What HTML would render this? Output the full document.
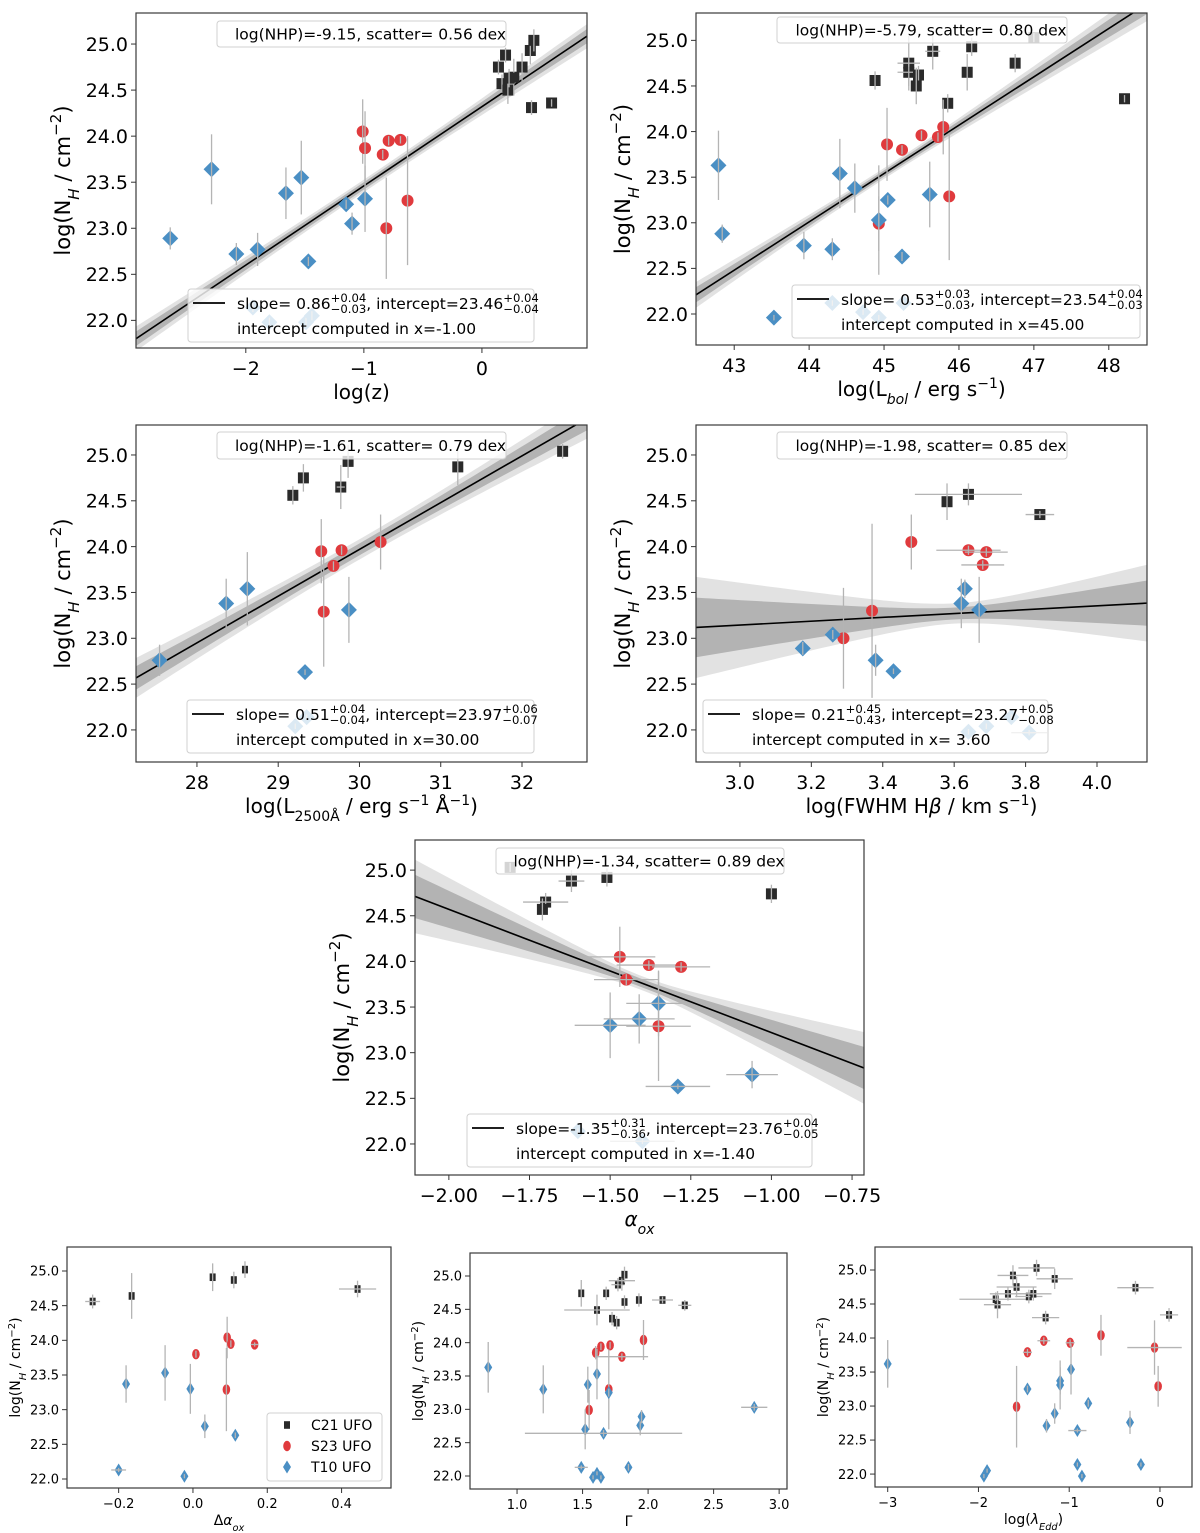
<!DOCTYPE html>
<html><head><meta charset="utf-8"><style>
html,body{margin:0;padding:0;background:#fff;}
svg{display:block;font-family:"DejaVu Sans","Liberation Sans",sans-serif;}
</style></head><body>
<svg id="fig" width="1200" height="1533" viewBox="0 0 1200 1533" xmlns="http://www.w3.org/2000/svg"></svg>
<script>
// ---------- DATA: each point [x, y, xerr, yerr] ----------
const p1Black=[[0.14,24.75,0,0.08],[0.20,24.88,0,0.08],[0.17,24.57,0,0.1],[0.22,24.50,0,0.15],[0.27,24.64,0,0.2],[0.34,24.75,0,0.15],[0.41,24.93,0,0.15],[0.44,25.04,0,0.12],[0.42,24.31,0,0.08],[0.59,24.36,0,0.04],[0.23,24.63,0,0.1]];
const p1Red=[[-1.01,24.05,0,0.35],[-0.99,23.87,0,0.4],[-0.84,23.80,0,0.05],[-0.79,23.95,0,0.05],[-0.69,23.96,0,0.04],[-0.63,23.30,0,0.7],[-0.81,23.00,0,0.55]];
const p1Blue=[[-2.64,22.89,0,0.12],[-2.29,23.64,0,0.38],[-2.08,22.72,0,0.12],[-1.90,22.77,0,0.18],[-1.66,23.38,0,0.28],[-1.53,23.55,0,0.4],[-1.47,22.64,0,0.05],[-1.15,23.26,0,0.05],[-1.10,23.05,0,0.12],[-0.99,23.32,0,0.36],[-1.94,22.14,0,0.05],[-1.80,21.98,0,0.05],[-1.49,21.98,0,0.05],[-1.44,22.05,0,0.05]];

const p2Black=[[44.88,24.56,0,0.1],[45.33,24.75,0.15,0.3],[45.33,24.65,0.15,0.15],[45.46,24.62,0,0.1],[45.43,24.50,0,0.2],[45.65,24.88,0.1,0.2],[45.85,24.31,0,0.1],[46.11,24.65,0,0.2],[46.17,24.93,0,0.1],[46.75,24.75,0,0.1],[48.21,24.36,0,0.04],[47.00,25.03,0,0.05]];
const p2Red=[[45.04,23.86,0,0.4],[45.24,23.80,0,0.05],[45.50,23.96,0,0.05],[45.72,23.94,0,0.05],[45.79,24.05,0,0.3],[45.87,23.29,0,0.7],[44.93,22.99,0,0.3]];
const p2Blue=[[42.79,23.63,0,0.38],[42.84,22.88,0,0.1],[43.53,21.96,0,0.03],[43.93,22.75,0,0.15],[44.31,22.71,0,0.12],[44.41,23.54,0,0.38],[44.61,23.38,0,0.27],[44.93,23.03,0,0.6],[45.05,23.25,0,0.05],[45.24,22.63,0,0.05],[45.61,23.31,0,0.36],[44.31,22.12,0,0.03],[44.72,22.02,0,0.03],[44.93,21.96,0,0.03],[45.26,22.12,0,0.03]];

const p3Black=[[29.18,24.56,0,0.1],[29.31,24.75,0,0.15],[29.77,24.65,0.05,0.24],[29.86,24.93,0,0.18],[31.21,24.87,0,0.2],[32.50,25.04,0,0.08]];
const p3Red=[[29.53,23.95,0,0.35],[29.78,23.96,0,0.05],[29.68,23.79,0,0.05],[29.56,23.29,0,0.6],[30.26,24.05,0,0.3]];
const p3Blue=[[27.54,22.76,0,0.17],[28.36,23.38,0,0.27],[28.62,23.54,0,0.4],[29.33,22.63,0,0.03],[29.87,23.31,0,0.36],[29.21,22.04,0,0.03],[29.35,22.14,0,0.03]];

const p4Black=[[3.58,24.49,0,0.2],[3.64,24.57,0.15,0.12],[3.84,24.35,0.04,0.04]];
const p4Red=[[3.37,23.30,0,0.95],[3.29,23.00,0,0.55],[3.48,24.05,0,0.3],[3.64,23.96,0.09,0.05],[3.69,23.94,0.06,0.05],[3.68,23.80,0.06,0.05]];
const p4Blue=[[3.176,22.89,0,0.07],[3.26,23.04,0,0.05],[3.38,22.76,0,0.17],[3.43,22.64,0,0.03],[3.63,23.54,0,0.1],[3.62,23.38,0,0.27],[3.67,23.31,0,0.36],[3.64,21.98,0,0.03],[3.69,22.04,0,0.03],[3.76,22.14,0,0.03],[3.81,21.97,0.05,0.03]];

const p5Black=[[-1.62,24.88,0.04,0.12],[-1.51,24.92,0,0.1],[-1.70,24.65,0.07,0.1],[-1.71,24.57,0,0.12],[-1.00,24.74,0,0.1],[-1.81,25.03,0,0.05]];
const p5Red=[[-1.47,24.05,0.11,0.33],[-1.38,23.96,0.1,0.05],[-1.28,23.94,0.09,0.05],[-1.45,23.80,0.1,0.06],[-1.35,23.29,0.1,0.6]];
const p5Blue=[[-1.50,23.30,0.11,0.36],[-1.41,23.37,0.11,0.27],[-1.35,23.54,0.1,0.36],[-1.29,22.63,0.1,0.03],[-1.06,22.76,0.08,0.15],[-1.60,22.14,0,0.03],[-1.40,22.03,0.1,0.03]];

const p6Black=[[-0.27,24.56,0.02,0.1],[-0.165,24.64,0,0.33],[0.053,24.91,0,0.2],[0.11,24.87,0,0.12],[0.14,25.02,0,0.12],[0.443,24.74,0.05,0.12]];
const p6Red=[[0.008,23.80,0,0.05],[0.092,24.04,0,0.3],[0.102,23.95,0,0.05],[0.166,23.94,0.01,0.03],[0.09,23.29,0,0.6]];
const p6Blue=[[-0.18,23.37,0,0.27],[-0.075,23.53,0,0.4],[-0.007,23.30,0,0.36],[0.032,22.76,0,0.17],[0.114,22.63,0,0.04],[-0.2,22.13,0.02,0.03],[-0.023,22.04,0,0.03]];

const p7Black=[[1.49,24.74,0,0.2],[1.61,24.49,0.25,0.23],[1.68,24.74,0,0.1],[1.725,24.36,0,0.1],[1.76,24.30,0,0.1],[1.77,24.87,0.05,0.1],[1.80,24.93,0.1,0.15],[1.82,25.02,0,0.12],[1.82,24.61,0,0.1],[1.93,24.64,0,0.1],[2.11,24.64,0.08,0.05],[2.28,24.56,0.05,0.08]];
const p7Red=[[1.60,23.85,0,0.1],[1.64,23.94,0,0.05],[1.71,23.96,0,0.05],[1.80,23.79,0.2,0.05],[1.965,24.04,0,0.3],[1.70,23.30,0,0.6],[1.55,22.99,0,0.3]];
const p7Blue=[[0.78,23.63,0,0.38],[1.20,23.30,0,0.36],[1.61,23.53,0,0.38],[1.54,23.37,0,0.27],[1.70,23.25,0,0.06],[1.52,22.70,0,0.3],[1.66,22.64,0.6,0.05],[1.94,22.76,0,0.15],[1.95,22.89,0,0.1],[2.81,23.03,0.1,0.05],[1.49,22.13,0.05,0.03],[1.85,22.13,0,0.05],[1.58,21.98,0,0.03],[1.61,22.04,0,0.03],[1.64,21.98,0,0.03]];

const p8Black=[[-1.81,24.57,0.4,0.1],[-1.79,24.49,0.15,0.2],[-1.675,24.65,0.2,0.1],[-1.62,24.92,0.17,0.15],[-1.58,24.75,0.22,0.15],[-1.445,24.61,0.15,0.1],[-1.395,24.65,0.2,0.1],[-1.36,25.03,0.2,0.12],[-1.26,24.30,0.15,0.1],[-1.16,24.87,0.2,0.15],[-0.27,24.74,0.2,0.1],[0.10,24.34,0.1,0.1]];
const p8Red=[[-1.46,23.79,0.05,0.05],[-1.28,23.96,0.07,0.05],[-0.99,23.93,0.05,0.05],[-0.65,24.04,0,0.3],[-0.06,23.86,0.3,0.4],[-0.02,23.29,0,0.3],[-1.58,22.99,0,0.6]];
const p8Blue=[[-3.0,23.62,0,0.35],[-1.46,23.25,0,0.05],[-1.10,23.37,0,0.2],[-1.10,23.31,0,0.36],[-0.98,23.54,0,0.37],[-0.79,23.04,0,0.05],[-1.16,22.89,0,0.15],[-1.25,22.71,0,0.1],[-0.91,22.64,0.1,0.03],[-0.33,22.76,0,0.17],[-1.94,21.97,0,0.03],[-1.905,22.05,0,0.03],[-0.91,22.14,0,0.03],[-0.86,21.97,0,0.03],[-0.21,22.14,0,0.03]];

// fit params: slope, intercept, pivot, slopeErr, interceptErr
const fitSlopes=[0.86,0.53,0.51,0.21,-1.35];
const fitIntercepts=[23.46,23.54,23.97,23.27,23.76];
const fitPivots=[-1.0,45.0,30.0,3.6,-1.4];
const fitSlopeErr=[0.035,0.03,0.04,0.44,0.33];
const fitIntErr=[0.04,0.035,0.065,0.065,0.045];
const nhpText=["log(NHP)=-9.15, scatter= 0.56 dex","log(NHP)=-5.79, scatter= 0.80 dex","log(NHP)=-1.61, scatter= 0.79 dex","log(NHP)=-1.98, scatter= 0.85 dex","log(NHP)=-1.34, scatter= 0.89 dex"];
const slopeTxt=[["0.86","+0.04","−0.03"],["0.53","+0.03","−0.03"],["0.51","+0.04","−0.04"],["0.21","+0.45","−0.43"],["-1.35","+0.31","−0.36"]];
const intTxt=[["23.46","+0.04","−0.04"],["23.54","+0.04","−0.03"],["23.97","+0.06","−0.07"],["23.27","+0.05","−0.08"],["23.76","+0.04","−0.05"]];
const pivotTxt=["-1.00","45.00","30.00"," 3.60","-1.40"];

const yTicks=[22.0,22.5,23.0,23.5,24.0,24.5,25.0];
const xTicks1=[-2,-1,0];
const xTicks2=[43,44,45,46,47,48];
const xTicks3=[28,29,30,31,32];
const xTicks4=[3.0,3.2,3.4,3.6,3.8,4.0];
const xTicks5=[-2.0,-1.75,-1.5,-1.25,-1.0,-0.75];
const xTicks6=[-0.2,0.0,0.2,0.4];
const xTicks7=[1.0,1.5,2.0,2.5,3.0];
const xTicks8=[-3,-2,-1,0];

// ---------- RENDERING ----------
const NS="http://www.w3.org/2000/svg";
const svg=document.getElementById('fig');
function el(tag,attrs,parent){const e=document.createElementNS(NS,tag);for(const k in attrs)e.setAttribute(k,attrs[k]);(parent||svg).appendChild(e);return e;}
const COL={black:'#2a2a2a',red:'#e03a3d',blue:'#4a8fc4'};
const ERR='#b4b4b4';
function fmtTick(v,dec){let s=v.toFixed(dec);return s.replace('-','−');}

const panels=[
 {id:'redshift',box:[136,13,587,348],xd:[-2.93,0.89],yd:[21.70,25.337],xt:xTicks1,xdec:0,data:[p1Black,p1Red,p1Blue],fit:0,nhp:[217,21,289,26],leg:[188,289,346,53],xlab:['log(z)'],big:true},
 {id:'lbol',box:[696,13,1147,345],xd:[42.49,48.51],yd:[21.66,25.30],xt:xTicks2,xdec:0,data:[p2Black,p2Red,p2Blue],fit:1,nhp:[777,17,290,26],leg:[792,285,348,53],xlab:['lbol'],big:true},
 {id:'l2500',box:[136,425,587,762],xd:[27.25,32.80],yd:[21.65,25.327],xt:xTicks3,xdec:0,data:[p3Black,p3Red,p3Blue],fit:2,nhp:[217,432,289,27],leg:[187,700,347,53],xlab:['l2500'],big:true},
 {id:'fwhm',box:[696,425,1147,762],xd:[2.877,4.14],yd:[21.65,25.327],xt:xTicks4,xdec:1,data:[p4Black,p4Red,p4Blue],fit:3,nhp:[777,432,290,27],leg:[703,700,345,53],xlab:['fwhm'],big:true},
 {id:'alphaox',box:[415,840,864,1175],xd:[-2.105,-0.713],yd:[21.66,25.33],xt:xTicks5,xdec:2,data:[p5Black,p5Red,p5Blue],fit:4,nhp:[496,848,288,26],leg:[467,1114,345,53],xlab:['aox'],big:true},
 {id:'delta-aox',box:[67,1247,391,1488],xd:[-0.339,0.533],yd:[21.87,25.346],xt:xTicks6,xdec:1,data:[p6Black,p6Red,p6Blue],fit:null,xlab:['daox'],big:false,legendSeries:true},
 {id:'gamma',box:[470,1253,787,1489],xd:[0.641,3.06],yd:[21.805,25.345],xt:xTicks7,xdec:1,data:[p7Black,p7Red,p7Blue],fit:null,xlab:['gamma'],big:false},
 {id:'eddington',box:[875,1247,1192,1487],xd:[-3.14,0.353],yd:[21.81,25.338],xt:xTicks8,xdec:0,data:[p8Black,p8Red,p8Blue],fit:null,xlab:['edd'],big:false}
];

function marker(g,kind,cx,cy,big){
 let m;
 if(kind===0){const s=big?11:6;m=el('rect',{x:cx-s/2,y:cy-(big?s/2:3.8),width:s,height:big?s:7.6,fill:COL.black},g);
   }
 else if(kind===1){m=big?el('circle',{cx:cx,cy:cy,r:6,fill:COL.red},g):el('ellipse',{cx:cx,cy:cy,rx:3.8,ry:5.2,fill:COL.red},g);
   }
 else {const w=big?8:4,h=big?8:6.5;m=el('polygon',{points:`${cx},${cy-h} ${cx+w},${cy} ${cx},${cy+h} ${cx-w},${cy}`,fill:COL.blue},g);
   }
 
}

function ylabel(x,y,size){
 const t=el('text',{x:x,y:y,'font-size':size,'text-anchor':'middle',transform:`rotate(-90 ${x} ${y})`});
 
 t.innerHTML=`log(N<tspan font-size="${size*0.72}" font-style="italic" baseline-shift="sub">H</tspan> / cm<tspan font-size="${size*0.72}" baseline-shift="super">−2</tspan>)`;
}
function xlabel(p,x,y){
 const s=p.big?20:14;
 const t=el('text',{x:x,y:y,'font-size':s,'text-anchor':'middle'});
 
 const sm=s*0.7;
 const k=p.xlab[0];
 if(k==='log(z)')t.textContent='log(z)';
 else if(k==='lbol')t.innerHTML=`log(L<tspan font-size="${sm}" font-style="italic" baseline-shift="sub">bol</tspan> / erg s<tspan font-size="${sm}" baseline-shift="super">−1</tspan>)`;
 else if(k==='l2500')t.innerHTML=`log(L<tspan font-size="${sm}" baseline-shift="sub">2500Å</tspan> / erg s<tspan font-size="${sm}" baseline-shift="super">−1</tspan> Å<tspan font-size="${sm}" baseline-shift="super">−1</tspan>)`;
 else if(k==='fwhm')t.innerHTML=`log(FWHM H<tspan font-style="italic">β</tspan> / km s<tspan font-size="${sm}" baseline-shift="super">−1</tspan>)`;
 else if(k==='aox')t.innerHTML=`<tspan font-style="italic">α</tspan><tspan font-size="${sm}" font-style="italic" baseline-shift="sub">ox</tspan>`;
 else if(k==='daox')t.innerHTML=`Δ<tspan font-style="italic">α</tspan><tspan font-size="${sm}" font-style="italic" baseline-shift="sub">ox</tspan>`;
 else if(k==='gamma')t.textContent='Γ';
 else if(k==='edd')t.innerHTML=`log(<tspan font-style="italic">λ</tspan><tspan font-size="${sm}" font-style="italic" baseline-shift="sub">Edd</tspan>)`;
}

function stacked(g,x,y,base,up,dn,fs){
 const t=el('text',{x:x,y:y,'font-size':fs},g);t.textContent=base;
 const w=t.getComputedTextLength();
 const a=el('text',{x:x+w,y:y-7,'font-size':fs*0.75},g);a.textContent=up;
 const b=el('text',{x:x+w,y:y+4,'font-size':fs*0.75},g);b.textContent=dn;
 return x+w+Math.max(a.getComputedTextLength(),b.getComputedTextLength());
}

panels.forEach((p,pi)=>{
 const [L,T,R,B]=p.box;
 const g=el('g',{});
 const X=v=>L+(v-p.xd[0])/(p.xd[1]-p.xd[0])*(R-L);
 const Y=v=>B-(v-p.yd[0])/(p.yd[1]-p.yd[0])*(B-T);
 const cid='clip'+pi;
 const cp=el('clipPath',{id:cid},g);el('rect',{x:L,y:T,width:R-L,height:B-T},cp);
 const plot=el('g',{'clip-path':`url(#${cid})`},g);
 if(p.fit!==null){
  const f=p.fit,s=fitSlopes[f],c=fitIntercepts[f],x0=fitPivots[f],es=fitSlopeErr[f],ei=fitIntErr[f];
  const N=60;const xs=[];for(let i=0;i<=N;i++)xs.push(p.xd[0]+(p.xd[1]-p.xd[0])*i/N);
  const hw=x=>Math.sqrt(ei*ei+es*es*(x-x0)*(x-x0));
  [[1.7,'#e2e2e2','fit-band-outer'],[1,'#b3b3b3','fit-band-inner']].forEach(([k,col,nm])=>{
   const up=xs.map(x=>`${X(x)},${Y(s*(x-x0)+c+k*hw(x))}`);
   const dn=xs.slice().reverse().map(x=>`${X(x)},${Y(s*(x-x0)+c-k*hw(x))}`);
   const poly=el('polygon',{points:up.concat(dn).join(' '),fill:col},plot);
   
  });
  const ln=el('line',{x1:X(p.xd[0]),y1:Y(s*(p.xd[0]-x0)+c),x2:X(p.xd[1]),y2:Y(s*(p.xd[1]-x0)+c),stroke:'#000','stroke-width':1.6},plot);
  
 }
 p.data.forEach((arr,k)=>{
  arr.forEach(d=>{
   const cx=X(d[0]),cy=Y(d[1]);
   marker(plot,k,cx,cy,p.big);
   if(d[3]>0){const e=el('line',{x1:cx,x2:cx,y1:Y(d[1]-d[3]),y2:Y(d[1]+d[3]),stroke:ERR,'stroke-width':1.3},plot);
     }
   if(d[2]>0){const e=el('line',{x1:X(d[0]-d[2]),x2:X(d[0]+d[2]),y1:cy,y2:cy,stroke:ERR,'stroke-width':1.3},plot);
     }
  });
 });
 const fr=el('rect',{x:L,y:T,width:R-L,height:B-T,fill:'none',stroke:'#3a3a3a','stroke-width':1.2},g);
 
 const fs=p.big?19:13;
 yTicks.forEach(v=>{
  const y=Y(v);el('line',{x1:L-5,x2:L,y1:y,y2:y,stroke:'#333','stroke-width':1},g);
  const t=el('text',{x:L-8,y:y+fs*0.36,'font-size':fs,'text-anchor':'end'},g);t.textContent=v.toFixed(1);
  
 });
 p.xt.forEach(v=>{
  const x=X(v);el('line',{x1:x,x2:x,y1:B,y2:B+5,stroke:'#333','stroke-width':1},g);
  const t=el('text',{x:x,y:B+(p.big?27:20),'font-size':fs,'text-anchor':'middle'},g);t.textContent=fmtTick(v,p.xdec);
  
 });
 if(p.big){ylabel(L-66,(T+B)/2,21);xlabel(p,(L+R)/2,B+51);}
 else {ylabel(L-47,(T+B)/2,14);xlabel(p,(L+R)/2,B+37);}
 if(p.fit!==null){
  const f=p.fit;
  const [nx,ny,nw,nh]=p.nhp;
  const nb=el('rect',{x:nx,y:ny,width:nw,height:nh,rx:3,fill:'rgba(255,255,255,0.8)',stroke:'#d0d0d0'},g);
  
  const nt=el('text',{x:nx+nw/2+9,y:ny+nh/2+5.5,'font-size':15.5,'text-anchor':'middle'},g);nt.textContent=nhpText[f];
  
  const [bx,by,bw,bh]=p.leg;
  const lb=el('rect',{x:bx,y:by,width:bw,height:bh,rx:3,fill:'rgba(255,255,255,0.8)',stroke:'#d0d0d0'},g);
  
  el('line',{x1:bx+5,x2:bx+37,y1:by+14,y2:by+14,stroke:'#000','stroke-width':1.8},g);
  const lg=el('g',{},g);
  let x=bx+49,y=by+20;
  x=stacked(lg,x,y,'slope='+(fitSlopes[f]>=0?' ':'')+slopeTxt[f][0],slopeTxt[f][1],slopeTxt[f][2],15.5);
  x=stacked(lg,x,y,', intercept='+intTxt[f][0],intTxt[f][1],intTxt[f][2],15.5);
  const t2=el('text',{x:bx+49,y:by+45,'font-size':15.5},lg);t2.textContent='intercept computed in x='+pivotTxt[f];
 }
 if(p.legendSeries){
  const lb=el('rect',{x:267,y:1413,width:115,height:68,rx:3,fill:'rgba(255,255,255,0.85)',stroke:'#d0d0d0'},g);
  
  ['C21 UFO','S23 UFO','T10 UFO'].forEach((s,k)=>{
   const yy=1425+k*21;marker(g,k,287,yy,false);
   const t=el('text',{x:311,y:yy+5,'font-size':14},g);t.textContent=s;
   
  });
 }
});
</script>
</body></html>
